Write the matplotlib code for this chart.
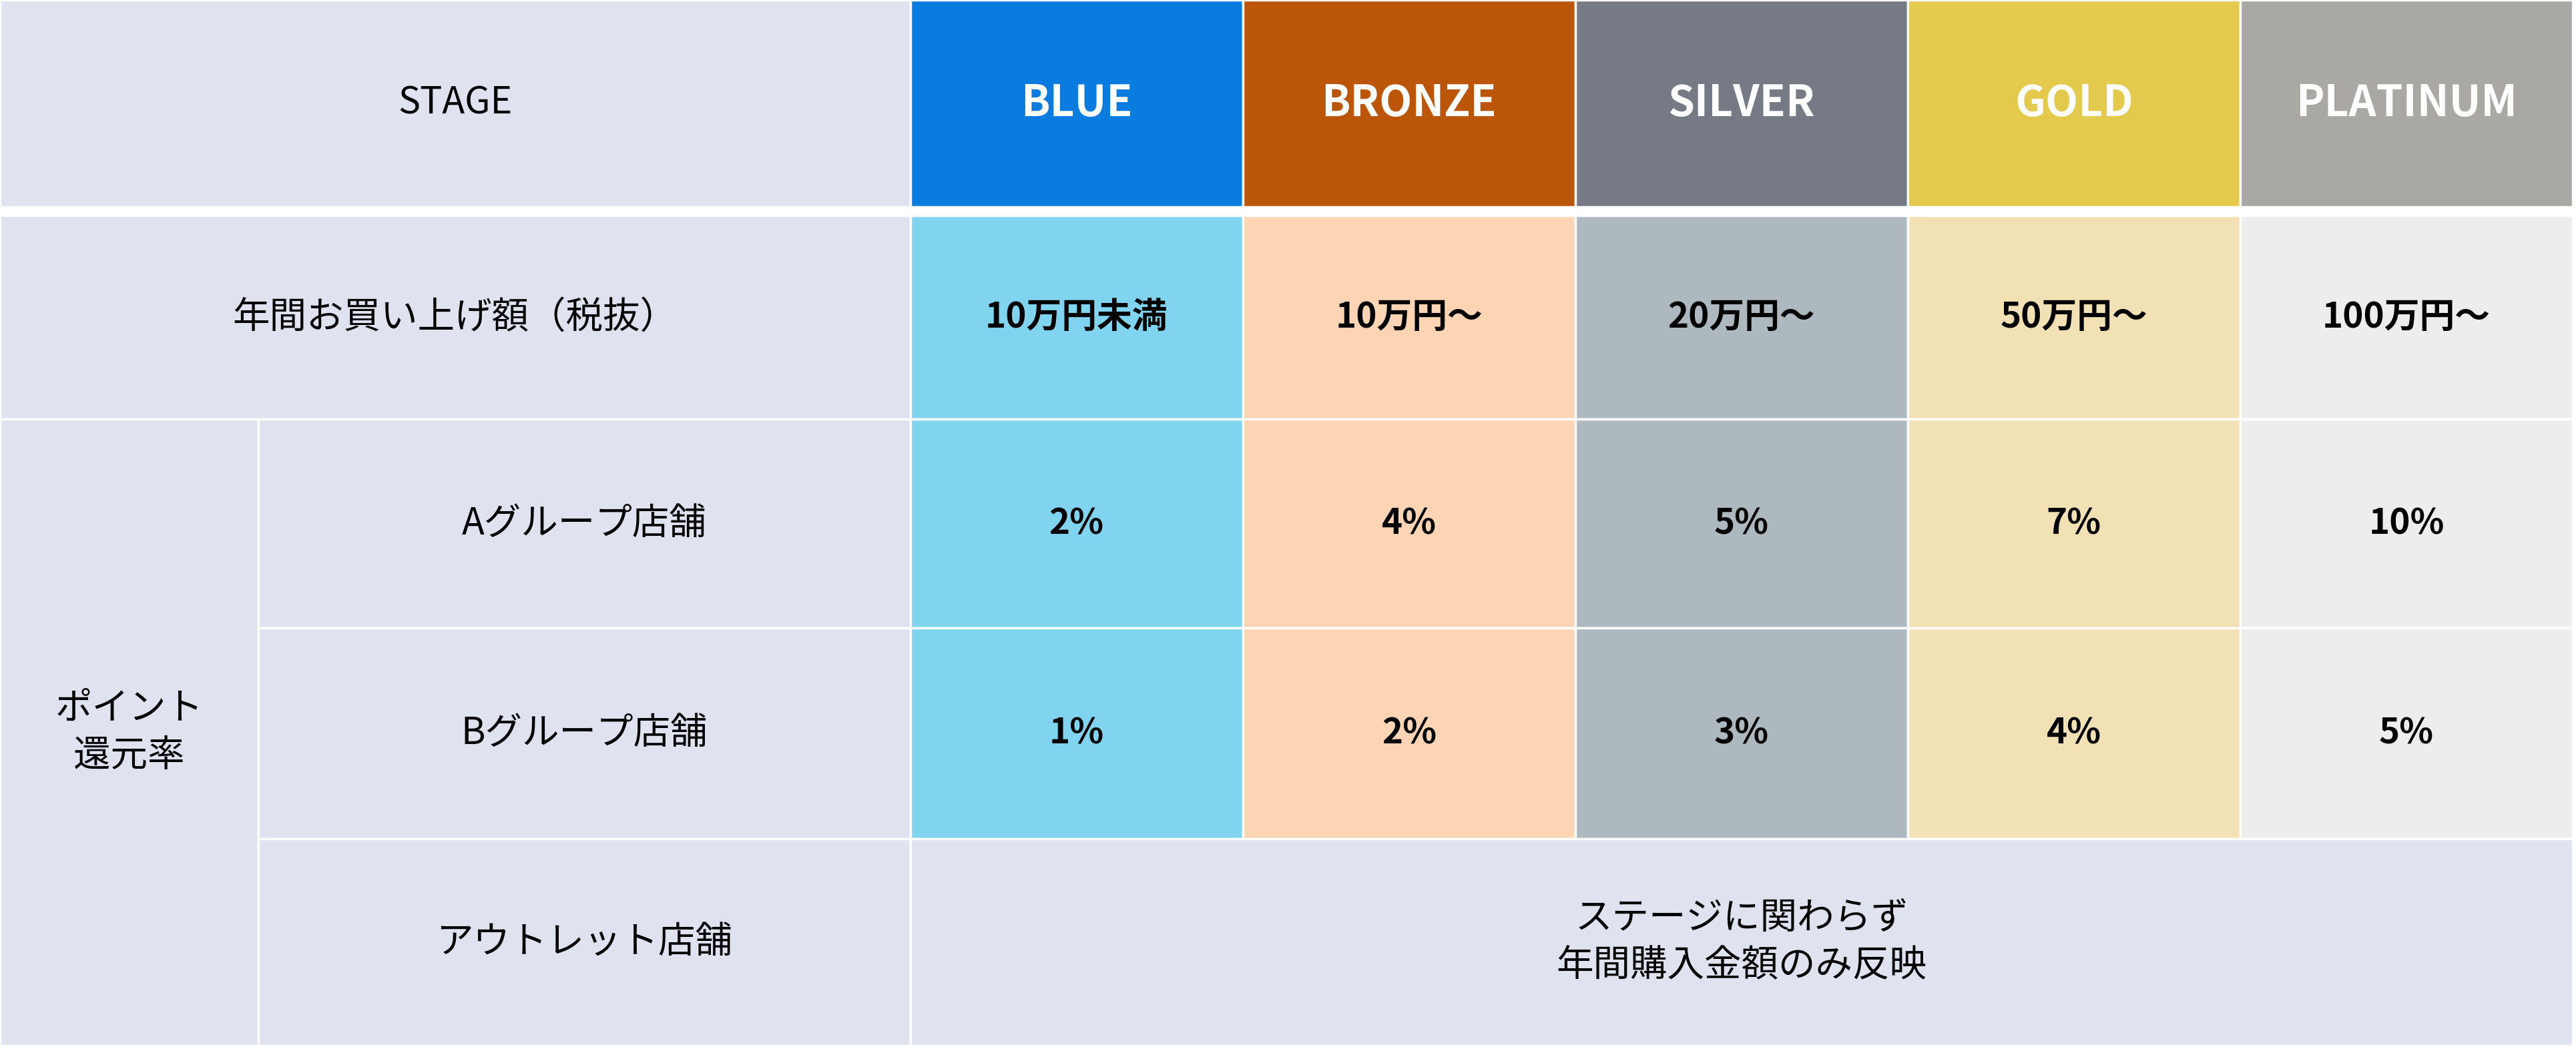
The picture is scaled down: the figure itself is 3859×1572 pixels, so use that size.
import matplotlib
matplotlib.use("Agg")
import matplotlib.pyplot as plt
from matplotlib.patches import Rectangle

plt.rcParams['font.family'] = ['Noto Sans CJK JP', 'DejaVu Sans']

stages = ["BLUE", "BRONZE", "SILVER", "GOLD", "PLATINUM"]
header_colors = ["#0A7BDF", "#BB5508", "#767A84", "#E3C94C", "#A9A8A4"]
cell_colors = ["#80D4F0", "#FDD5B4", "#ADB9BE", "#F1E1B5", "#EDEDED"]
amounts = ["10万円未満", "10万円〜", "20万円〜", "50万円〜", "100万円〜"]
rate_a = ["2%", "4%", "5%", "7%", "10%"]
rate_b = ["1%", "2%", "3%", "4%", "5%"]
label_bg = "#DFE3F0"

W, H = 1565, 638
fig = plt.figure(figsize=(38.59, 15.72), dpi=100)
ax = fig.add_axes([0, 0, 1, 1])
ax.set_xlim(0, W); ax.set_ylim(H, 0); ax.axis('off')

col_x = [553, 755, 957, 1159, 1361, 1563]
rows = [(0, 126), (131, 255), (255, 382), (382, 510), (510, 636)]
lw = 2.5

def cell(x0, x1, y0, y1, color, text=None, fs=40, weight='normal', tc='black'):
    ax.add_patch(Rectangle((x0, y0), x1 - x0, y1 - y0, facecolor=color, edgecolor='white', linewidth=lw))
    if text:
        ax.text((x0 + x1) / 2, (y0 + y1) / 2, text, ha='center', va='center', fontsize=fs,
                fontweight=weight, color=tc, linespacing=1.3)

# header
cell(0, 553, *rows[0], label_bg, "STAGE", fs=40)
for i, s in enumerate(stages):
    cell(col_x[i], col_x[i + 1], *rows[0], header_colors[i], s, fs=46, weight='bold', tc='white')
# amount row
cell(0, 553, *rows[1], label_bg, "年間お買い上げ額（税抜）", fs=40)
for i in range(5):
    cell(col_x[i], col_x[i + 1], *rows[1], cell_colors[i], amounts[i], fs=38, weight='bold')
# point rows
cell(0, 157, rows[2][0], rows[4][1], label_bg, "ポイント\n還元率", fs=40)
cell(157, 553, *rows[2], label_bg, "Aグループ店舗", fs=40)
cell(157, 553, *rows[3], label_bg, "Bグループ店舗", fs=40)
cell(157, 553, *rows[4], label_bg, "アウトレット店舗", fs=40)
for i in range(5):
    cell(col_x[i], col_x[i + 1], *rows[2], cell_colors[i], rate_a[i], fs=38, weight='bold')
    cell(col_x[i], col_x[i + 1], *rows[3], cell_colors[i], rate_b[i], fs=38, weight='bold')
cell(553, 1563, *rows[4], label_bg, "ステージに関わらず\n年間購入金額のみ反映", fs=40)

fig.savefig("out.png", dpi=100, facecolor='white')
